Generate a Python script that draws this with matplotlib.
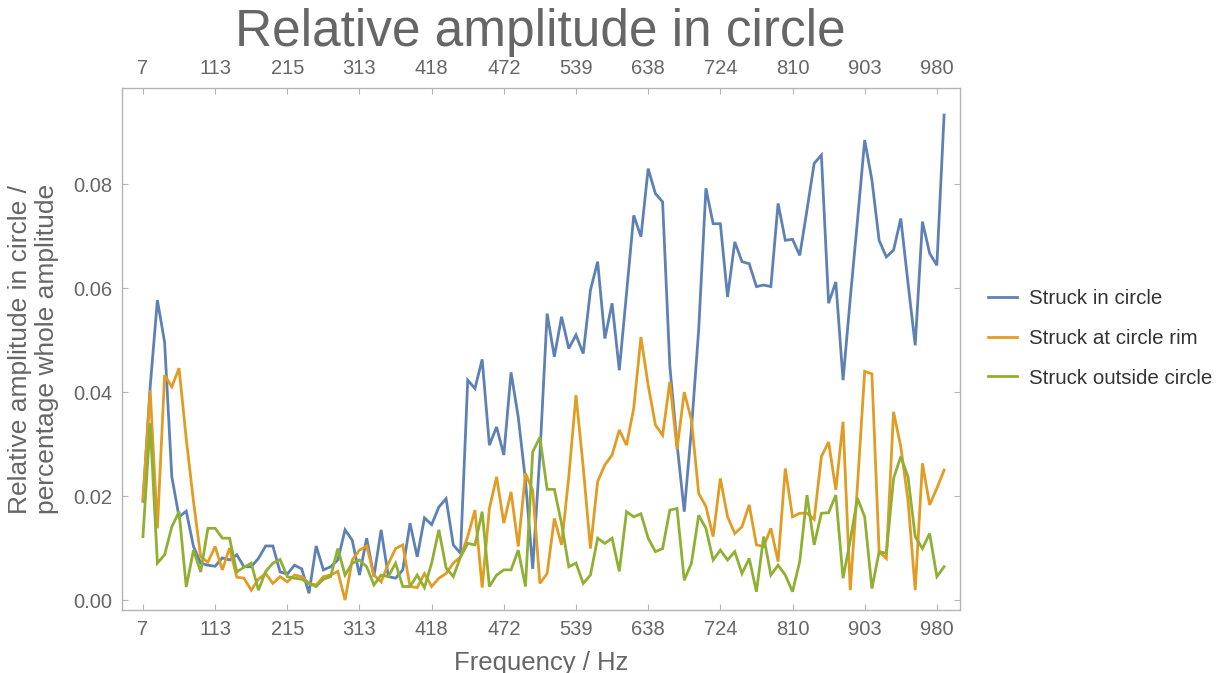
import numpy as np
from matplotlib import pyplot as plt

# frequency labels shown on the x axis (every 10th sample)
freq_labels = ["7", "113", "215", "313", "418", "472", "539", "638", "724", "810", "903", "980"]

struck_in = [
    0.019, 0.041, 0.0577, 0.0496, 0.0237, 0.016, 0.0171, 0.0103, 0.0071, 0.0067,
    0.0065, 0.0081, 0.0077, 0.0087, 0.0064, 0.0064, 0.008, 0.0104, 0.0104, 0.0054,
    0.005, 0.0067, 0.006, 0.0013, 0.0104, 0.0058, 0.0064, 0.0077, 0.0135, 0.0115,
    0.0048, 0.0119, 0.0045, 0.0135, 0.0045, 0.0042, 0.0058, 0.0148, 0.0083, 0.0158,
    0.0145, 0.0179, 0.0195, 0.0106, 0.009, 0.0423, 0.0407, 0.0463, 0.0298, 0.0333,
    0.0279, 0.0438, 0.0352, 0.023, 0.006, 0.028, 0.0551, 0.0468, 0.0545, 0.0484,
    0.051, 0.0474, 0.0596, 0.0651, 0.0503, 0.0571, 0.0442, 0.059, 0.074, 0.0699,
    0.083, 0.0782, 0.0766, 0.045, 0.030, 0.017, 0.033, 0.052, 0.0792, 0.0724,
    0.0724, 0.0583, 0.0689, 0.0651, 0.0647, 0.0603, 0.0606, 0.0603, 0.0763, 0.0692,
    0.0694, 0.0663, 0.075, 0.084, 0.0856, 0.0571, 0.0612, 0.0423, 0.058, 0.073,
    0.0885, 0.0808, 0.0692, 0.066, 0.0673, 0.0734, 0.061, 0.049, 0.0728, 0.0667,
    0.0644, 0.0933,
]

struck_rim = [
    0.0192, 0.0404, 0.0138, 0.0433, 0.041, 0.0446, 0.031, 0.019, 0.0083, 0.0073,
    0.0103, 0.0058, 0.0100, 0.0044, 0.0042, 0.0019, 0.004, 0.0051, 0.0032, 0.0045,
    0.0035, 0.0048, 0.0045, 0.0032, 0.0029, 0.0045, 0.0048, 0.0055, 0.0, 0.0077,
    0.0096, 0.0104, 0.0048, 0.0035, 0.007, 0.0099, 0.0106, 0.0026, 0.0024, 0.0051,
    0.0026, 0.0042, 0.0051, 0.0071, 0.0083, 0.0122, 0.0173, 0.0024, 0.0176, 0.0237,
    0.0148, 0.0208, 0.0103, 0.0244, 0.0211, 0.0032, 0.0051, 0.0157, 0.0106, 0.0237,
    0.0394, 0.0256, 0.0099, 0.0228, 0.026, 0.0279, 0.0327, 0.0298, 0.0369, 0.0506,
    0.0413, 0.0337, 0.0317, 0.042, 0.029, 0.040, 0.0346, 0.0205, 0.018, 0.0122,
    0.0234, 0.016, 0.0128, 0.0141, 0.0183, 0.0106, 0.0103, 0.0138, 0.0074, 0.0253,
    0.016, 0.0167, 0.0167, 0.0155, 0.0276, 0.0304, 0.0212, 0.0343, 0.0019, 0.022,
    0.044, 0.0435, 0.0093, 0.008, 0.0362, 0.0295, 0.0192, 0.0019, 0.0263, 0.0183,
    0.0215, 0.025,
]

struck_out = [
    0.0122, 0.034, 0.0071, 0.0087, 0.0141, 0.017, 0.0025, 0.0096, 0.0054, 0.0138,
    0.0138, 0.0119, 0.0119, 0.0054, 0.0063, 0.0071, 0.0019, 0.0055, 0.0071, 0.0078,
    0.0045, 0.0042, 0.004, 0.0032, 0.0026, 0.004, 0.0045, 0.0099, 0.0048, 0.0071,
    0.0077, 0.0064, 0.0029, 0.0048, 0.0045, 0.0071, 0.0026, 0.0026, 0.0048, 0.0024,
    0.0071, 0.0135, 0.0062, 0.0045, 0.0083, 0.0109, 0.0106, 0.017, 0.0026, 0.0048,
    0.0058, 0.0058, 0.0096, 0.0026, 0.0285, 0.0313, 0.0213, 0.0213, 0.0147, 0.0064,
    0.0071, 0.0032, 0.0048, 0.0119, 0.0109, 0.0119, 0.0055, 0.017, 0.016, 0.0166,
    0.0119, 0.0093, 0.0099, 0.0173, 0.0176, 0.0038, 0.0071, 0.0163, 0.0138, 0.0077,
    0.0096, 0.0077, 0.0093, 0.0051, 0.008, 0.0016, 0.0122, 0.0048, 0.0067, 0.0048,
    0.0016, 0.0074, 0.0202, 0.0106, 0.0167, 0.0168, 0.0202, 0.0042, 0.0115, 0.0196,
    0.016, 0.0022, 0.0093, 0.009, 0.0234, 0.0276, 0.0237, 0.0122, 0.0099, 0.0128,
    0.0045, 0.0064,
]

series_names = ["Struck in circle", "Struck at circle rim", "Struck outside circle"]
colors = ["#5e81b5", "#e19c24", "#8fb032"]

text_col = "#666666"
frame_col = "#b4b4b4"

plt.rcParams["font.family"] = ["Liberation Sans", "DejaVu Sans"]

fig = plt.figure(figsize=(12.19, 6.73), dpi=100)
ax = fig.add_axes([0.1001, 0.0936, 0.6874, 0.7756])

for values, name, c in zip([struck_in, struck_rim, struck_out], series_names, colors):
    x = np.arange(len(values))
    ax.plot(x, values, color=c, lw=2.0, label=name, solid_joinstyle="miter")

ax.set_xlim(-2.9, 113.2)
ax.set_ylim(-0.00192, 0.0985)

tick_pos = np.arange(0, 10 * len(freq_labels), 10)
ax.set_xticks(tick_pos)
ax.set_xticklabels(freq_labels)
ax.set_yticks([0.0, 0.02, 0.04, 0.06, 0.08])
ax.set_yticklabels(["0.00", "0.02", "0.04", "0.06", "0.08"])

ax.tick_params(axis="both", direction="in", length=4, width=0.8, color=frame_col,
               labelsize=14.5, labelcolor=text_col, pad=7)
ax.tick_params(axis="x", top=True, labeltop=True)
ax.tick_params(axis="y", right=True)

for s in ax.spines.values():
    s.set_color(frame_col)
    s.set_linewidth(1.0)

ax.set_xlabel("Frequency / Hz", fontsize=18.5, color=text_col, labelpad=9)
ax.set_ylabel("Relative amplitude in circle /\npercentage whole amplitude",
              fontsize=19, color=text_col, labelpad=10, linespacing=1.15)

fig.text(0.443, 0.951, "Relative amplitude in circle", ha="center", va="center",
         fontsize=37, color=text_col)

fig.legend(loc="center left", bbox_to_anchor=(0.795, 0.497), frameon=False,
           fontsize=14.8, handlelength=1.45, handletextpad=0.55, labelspacing=1.0,
           labelcolor="#333333")

fig.savefig("out.png", dpi=100)
